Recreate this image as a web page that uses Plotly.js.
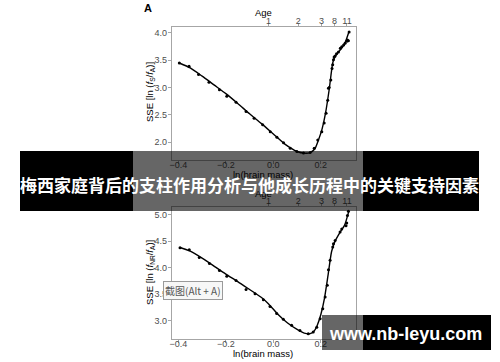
<!DOCTYPE html>
<html><head><meta charset="utf-8">
<script src="https://cdn.plot.ly/plotly-3.0.1.min.js"></script>
<style>html,body{margin:0;padding:0;background:#fff}#chart{width:500px;height:362px}</style>
</head><body><div id="chart"></div>
<script>
// Panel A: SSE [ln(fS/fA)] vs ln(brain mass)
const aPtsX = [-0.396,-0.355,-0.315,-0.271,-0.227,-0.196,-0.157,-0.115,-0.081,-0.045,-0.013,0.015,0.043,0.071,0.099,0.127,0.155,0.172,0.187,0.204,0.214,0.222,0.229,0.232,0.235,0.242,0.247,0.250,0.253,0.256,0.260,0.266,0.274,0.282,0.288,0.296,0.302,0.309,0.312,0.316,0.319];
const aPtsY = [3.45,3.39,3.24,3.10,2.96,2.84,2.73,2.56,2.44,2.32,2.19,2.09,1.99,1.89,1.83,1.80,1.81,1.89,2.04,2.19,2.35,2.53,2.77,2.99,3.00,3.14,3.35,3.42,3.51,3.56,3.58,3.62,3.65,3.72,3.75,3.78,3.81,3.85,3.87,3.86,4.02];
const aFitX = [-0.396,-0.35,-0.30,-0.25,-0.20,-0.15,-0.10,-0.05,0.00,0.05,0.10,0.13,0.155,0.175,0.19,0.205,0.22,0.235,0.25,0.26,0.28,0.30,0.319];
const aFitY = [3.45,3.36,3.21,3.05,2.89,2.71,2.52,2.34,2.15,1.96,1.83,1.80,1.81,1.88,2.04,2.24,2.54,2.96,3.45,3.57,3.68,3.80,4.03];
// Panel B: SSE [ln(fNR/fA)] vs ln(brain mass)
const bPtsX = [-0.393,-0.354,-0.312,-0.269,-0.227,-0.196,-0.157,-0.115,-0.077,-0.042,-0.014,0.014,0.042,0.077,0.112,0.147,0.168,0.183,0.197,0.208,0.218,0.227,0.232,0.239,0.250,0.253,0.260,0.281,0.288,0.306,0.309,0.312,0.316];
const bPtsY = [4.375,4.34,4.19,4.08,3.95,3.84,3.76,3.59,3.51,3.40,3.27,3.14,3.03,2.92,2.82,2.76,2.79,2.88,3.04,3.23,3.45,3.67,3.96,4.14,4.39,4.45,4.51,4.67,4.73,4.79,4.84,4.98,5.06];
const bFitX = [-0.393,-0.35,-0.30,-0.25,-0.20,-0.15,-0.10,-0.05,-0.02,0.02,0.06,0.10,0.13,0.155,0.17,0.185,0.20,0.215,0.23,0.245,0.26,0.28,0.30,0.317];
const bFitY = [4.38,4.31,4.18,4.03,3.88,3.74,3.59,3.44,3.32,3.12,2.96,2.84,2.77,2.76,2.80,2.92,3.12,3.42,3.85,4.30,4.50,4.66,4.80,5.05];
// Top "Age" axis: ticks placed at ln(brain mass) positions
const ageTickPos = [-0.020,0.105,0.203,0.258,0.310];
const ageTickLabels = ['1','2','3','8','11'];
const xTickVals = [-0.4,-0.2,0.0,0.2];
const xTickText = ['\u22120.4','\u22120.2','0.0','0.2'];
const aYTicks = [2.0,2.5,3.0,3.5,4.0];
const bYTicks = [3.0,3.5,4.0,4.5,5.0];
const bannerText = '梅西家庭背后的支柱作用分析与他成长历程中的关键支持因素';
const watermark = 'www.nb-leyu.com';
const tooltip = '截图(Alt + A)';

const W = 500, H = 362;
const px = v => v / W, py = v => 1 - v / H;
const xr = [-0.428, 0.348];
const FAM = 'Liberation Sans, Arial, sans-serif';
const tickFont = {family: FAM, size: 9, color: '#4d4d4d'};
const titleFont = {family: FAM, size: 9.5, color: '#000'};
const lineC = '#a6a6a6';

const fitLine = {color: '#000', width: 1.4, shape: 'spline', smoothing: 0.6};
const mk = {color: '#000', size: 3};

const data = [
  {x: aFitX, y: aFitY, xaxis: 'x', yaxis: 'y', mode: 'lines', line: fitLine, hoverinfo: 'skip'},
  {x: aPtsX, y: aPtsY, xaxis: 'x', yaxis: 'y', mode: 'markers', marker: mk},
  {x: ageTickPos, y: ageTickPos.map(() => null), xaxis: 'x2', yaxis: 'y', mode: 'markers', hoverinfo: 'skip'},
  {x: bFitX, y: bFitY, xaxis: 'x3', yaxis: 'y2', mode: 'lines', line: fitLine, hoverinfo: 'skip'},
  {x: bPtsX, y: bPtsY, xaxis: 'x3', yaxis: 'y2', mode: 'markers', marker: mk},
  {x: ageTickPos, y: ageTickPos.map(() => null), xaxis: 'x4', yaxis: 'y2', mode: 'markers', hoverinfo: 'skip'}
];

const xDom = [px(171.7), px(356)];
const baseX = {domain: xDom, range: xr, showgrid: false, zeroline: false, showline: true, mirror: true,
  linecolor: lineC, linewidth: 1, ticks: 'outside', ticklen: 3, tickcolor: lineC, ticklabelstandoff: -7,
  tickvals: xTickVals, ticktext: xTickText, tickfont: tickFont, automargin: false};
const topX = {range: xr, side: 'top', showgrid: false, zeroline: false, showline: false,
  ticks: 'outside', ticklen: 3, tickcolor: lineC, tickvals: ageTickPos, ticktext: ageTickLabels, ticklabelstandoff: -5,
  tickfont: tickFont, automargin: false};
const baseY = {showgrid: false, zeroline: false, showline: true, mirror: true, linecolor: lineC, linewidth: 1,
  ticks: 'outside', ticklen: 3, tickcolor: lineC, tickfont: tickFont, tickformat: '.1f', automargin: false, ticklabelstandoff: -1};

function ann(text, x, y, opts) {
  return Object.assign({text: text, xref: 'paper', yref: 'paper', x: px(x), y: py(y),
    xanchor: 'center', yanchor: 'middle', showarrow: false, font: titleFont}, opts || {});
}

const layout = {
  width: W, height: H, margin: {l: 0, r: 0, t: 0, b: 0},
  paper_bgcolor: '#fff', plot_bgcolor: '#fff', showlegend: false,
  font: {family: FAM},
  xaxis: Object.assign({}, baseX, {anchor: 'y'}),
  xaxis2: Object.assign({}, topX, {overlaying: 'x', anchor: 'y'}),
  yaxis: Object.assign({}, baseY, {domain: [py(160), py(26.7)], range: [1.674, 4.115], anchor: 'x', tickvals: aYTicks}),
  xaxis3: Object.assign({}, baseX, {anchor: 'y2'}),
  xaxis4: Object.assign({}, topX, {overlaying: 'x3', anchor: 'y2'}),
  yaxis2: Object.assign({}, baseY, {domain: [py(339), py(206.7)], range: [2.66, 5.147], anchor: 'x3', tickvals: bYTicks}),
  shapes: [
    {type: 'rect', xref: 'paper', yref: 'paper', x0: px(20), x1: px(133), y0: py(211), y1: py(151), fillcolor: '#000', line: {width: 0}, layer: 'above'},
    {type: 'rect', xref: 'paper', yref: 'paper', x0: px(363), x1: px(479), y0: py(211), y1: py(151), fillcolor: '#000', line: {width: 0}, layer: 'above'},
    {type: 'rect', xref: 'paper', yref: 'paper', x0: px(133), x1: px(363), y0: py(211), y1: py(151), fillcolor: 'rgba(0,0,0,0.6)', line: {width: 0}, layer: 'above'},
    {type: 'rect', xref: 'paper', yref: 'paper', x0: px(322), x1: px(363), y0: py(350), y1: py(315), fillcolor: 'rgba(0,0,0,0.6)', line: {width: 0}, layer: 'above'},
    {type: 'rect', xref: 'paper', yref: 'paper', x0: px(363), x1: px(491), y0: py(350), y1: py(315), fillcolor: '#000', line: {width: 0}, layer: 'above'}
  ],
  annotations: [
    ann('<b>A</b>', 148, 8, {font: {family: FAM, size: 11, color: '#000'}}),
    ann('Age', 263, 13),
    ann('ln(brain mass)', 263, 175),
    ann('SSE [ln (<i>f</i><sub>S</sub>/<i>f</i><sub>A</sub>)]', 150, 92, {textangle: -90}),
    ann('Age', 263, 193),
    ann('ln(brain mass)', 263, 353),
    ann('SSE [ln (<i>f</i><sub>NR</sub>/<i>f</i><sub>A</sub>)]', 150, 273, {textangle: -90}),
    ann('<b>' + bannerText + '</b>', 249.5, 184, {font: {family: 'Noto Sans CJK SC, sans-serif', size: 17, color: '#fff'}}),
    ann('<b>' + watermark + '</b>', 405, 334, {font: {family: FAM, size: 18, color: '#fff'}}),
    ann(tooltip, 193, 290, {bgcolor: '#f7f7f7', bordercolor: '#9a9a9a', borderwidth: 1, borderpad: 1,
      font: {family: 'Noto Sans CJK SC, sans-serif', size: 10, color: '#555'}})
  ]
};
Plotly.newPlot('chart', data, layout, {staticPlot: true, displayModeBar: false});
</script></body></html>
